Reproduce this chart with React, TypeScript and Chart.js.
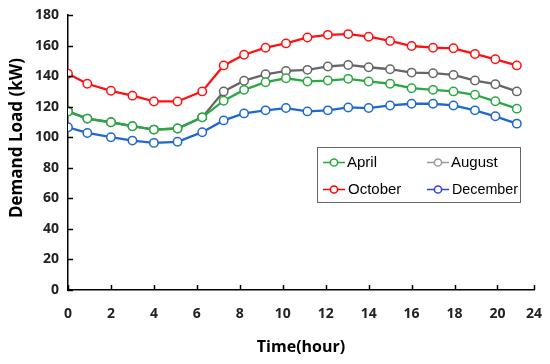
import { useEffect, useRef } from 'react';
import { Chart, registerables } from 'chart.js';

Chart.register(...registerables);

// ---- data ----
const hours = [0, 0.9, 2, 3, 4, 5.1, 6.25, 7.25, 8.2, 9.2, 10.15, 11.15, 12.1, 13.05, 14, 15, 16, 17, 17.95, 18.95, 19.9, 20.9];
const april = [116.9, 112.2, 109.8, 107.2, 105, 105.7, 113, 123.9, 131, 136, 138.6, 136.5, 137.1, 138.2, 136.5, 135, 132.1, 131, 130, 127.8, 123.5, 118.7];
const august = [116.9, 112.2, 109.8, 107.2, 105, 105.7, 113, 130, 137, 141.2, 143.4, 144.1, 146.3, 147.3, 145.8, 144.5, 142.3, 141.9, 140.8, 137.1, 134.7, 130];
const october = [141.5, 135, 130.4, 127.2, 123.4, 123.4, 130, 147, 154, 158.6, 161.4, 165.3, 167, 167.5, 165.8, 163, 159.7, 158.6, 158.2, 154.5, 151, 147];
const december = [106.5, 102.8, 100, 97.8, 96.3, 97, 103.3, 111, 115.6, 117.6, 119.1, 116.9, 117.6, 119.5, 119.1, 120.8, 121.9, 121.9, 120.8, 117.6, 113.7, 108.9];
const seriesNames = ['April', 'August', 'October', 'December'];
const xTickLabels = ['0', '2', '4', '6', '8', '10', '12', '14', '16', '18', '20', '24'];
const yTitle = 'Demand Load (kW)';
const xTitle = 'Time(hour)';

// ---- styles ----
const lineColors = ['#2aa844', '#666666', '#ff1111', '#1f68cf'];
const legendColors = ['#22aa33', '#999999', '#ff0000', '#3344cc'];
const X_MAX = 21.7;
const TICK_FONT = '"Open Sans", "Noto Sans", sans-serif';

const toPoints = (vals: number[]) => vals.map((v, i) => ({ x: hours[i], y: v }));

const overlay = {
  id: 'overlay',
  afterDraw(chart: any) {
    const { ctx, chartArea, scales } = chart;
    const xs = scales.x;
    const ys = scales.y;
    ctx.save();
    ctx.strokeStyle = '#000';
    ctx.lineWidth = 1.5;
    xs.ticks.forEach((t: any) => {
      const px = Math.round(xs.getPixelForValue(t.value)) + 0.5;
      ctx.beginPath();
      ctx.moveTo(px, chartArea.bottom);
      ctx.lineTo(px, chartArea.bottom - 5);
      ctx.stroke();
    });
    ys.ticks.forEach((t: any) => {
      const py = Math.round(ys.getPixelForValue(t.value)) + 0.5;
      ctx.beginPath();
      ctx.moveTo(chartArea.left, py);
      ctx.lineTo(chartArea.left + 5, py);
      ctx.stroke();
    });

    // y axis title
    ctx.save();
    ctx.translate(17, 138);
    ctx.rotate(-Math.PI / 2);
    ctx.font = 'bold 17px ' + TICK_FONT;
    ctx.fillStyle = '#000';
    ctx.textAlign = 'center';
    ctx.textBaseline = 'middle';
    ctx.fillText(yTitle, 0, 0);
    ctx.restore();

    // legend
    const bx = 317.5, by = 147.5, bw = 203, bh = 55;
    ctx.fillStyle = '#fff';
    ctx.fillRect(bx, by, bw, bh);
    ctx.strokeStyle = '#666';
    ctx.lineWidth = 1;
    ctx.strokeRect(bx, by, bw, bh);
    ctx.font = '15px "Liberation Sans", Arial, sans-serif';
    ctx.textBaseline = 'middle';
    ctx.textAlign = 'left';
    seriesNames.forEach((name, i) => {
      const col = i % 2;
      const row = Math.floor(i / 2);
      const lx = 323 + col * 104;
      const ly = 162.5 + row * 27;
      ctx.strokeStyle = legendColors[i];
      ctx.lineWidth = 1.5;
      ctx.beginPath();
      ctx.moveTo(lx, ly);
      ctx.lineTo(lx + 22, ly);
      ctx.stroke();
      ctx.fillStyle = '#fff';
      ctx.beginPath();
      ctx.arc(lx + 11, ly, 3.6, 0, Math.PI * 2);
      ctx.fill();
      ctx.stroke();
      ctx.fillStyle = '#000';
      ctx.fillText(name, lx + 24 + (row === 1 ? 1 : 0), ly + 0.5, 66);
    });
    ctx.restore();
  },
};

export default function App() {
  const ref = useRef<HTMLCanvasElement | null>(null);

  useEffect(() => {
    if (!ref.current) return;
    const allSeries = [april, august, october, december];
    const chart = new Chart(ref.current, {
      type: 'line',
      data: {
        datasets: allSeries.map((vals, i) => ({
          label: seriesNames[i],
          data: toPoints(vals),
          borderColor: lineColors[i],
          backgroundColor: '#ffffff',
          pointBackgroundColor: '#ffffff',
          pointBorderColor: lineColors[i],
          pointRadius: 4.2,
          pointBorderWidth: 1.5,
          borderWidth: 2.3,
          tension: 0,
          fill: false,
        })),
      },
      options: {
        responsive: false,
        animation: false,
        layout: { padding: { top: 15, right: 16, left: 0, bottom: 0 } },
        plugins: {
          legend: { display: false },
          tooltip: { enabled: false },
        },
        scales: {
          x: {
            type: 'linear',
            min: 0,
            max: X_MAX,
            afterBuildTicks: (scale: any) => {
              scale.ticks = xTickLabels.map((l, i) => ({
                value: i === xTickLabels.length - 1 ? X_MAX : Number(l),
              }));
            },
            afterFit: (scale: any) => {
              scale.height = 74;
              scale.paddingLeft = 0;
              scale.paddingRight = 0;
            },
            grid: { display: false, drawTicks: false },
            border: { display: true, color: '#000', width: 1.5 },
            ticks: {
              autoSkip: false,
              maxRotation: 0,
              padding: 16,
              color: '#222',
              font: { family: TICK_FONT, size: 14, weight: 'bold' },
              callback: (_v: any, i: number) => xTickLabels[i],
            },
            title: {
              display: true,
              text: xTitle,
              color: '#000',
              font: { family: TICK_FONT, size: 16, weight: 'bold' },
              padding: { top: 0, bottom: 7 },
            },
          },
          y: {
            min: 0,
            max: 180,
            afterFit: (scale: any) => {
              scale.width = 68;
              scale.paddingTop = 0;
              scale.paddingBottom = 0;
            },
            grid: { display: false, drawTicks: false },
            border: { display: true, color: '#000', width: 1.5 },
            ticks: {
              stepSize: 20,
              padding: 9,
              color: '#222',
              font: { family: TICK_FONT, size: 14, weight: 'bold' },
            },
          },
        },
      },
      plugins: [overlay],
    });
    return () => chart.destroy();
  }, []);

  return (
    <div style={{ position: 'absolute', left: 0, top: 0, width: 550, height: 364, background: '#fff' }}>
      <canvas ref={ref} width={550} height={364} style={{ width: 550, height: 364 }} />
    </div>
  );
}
